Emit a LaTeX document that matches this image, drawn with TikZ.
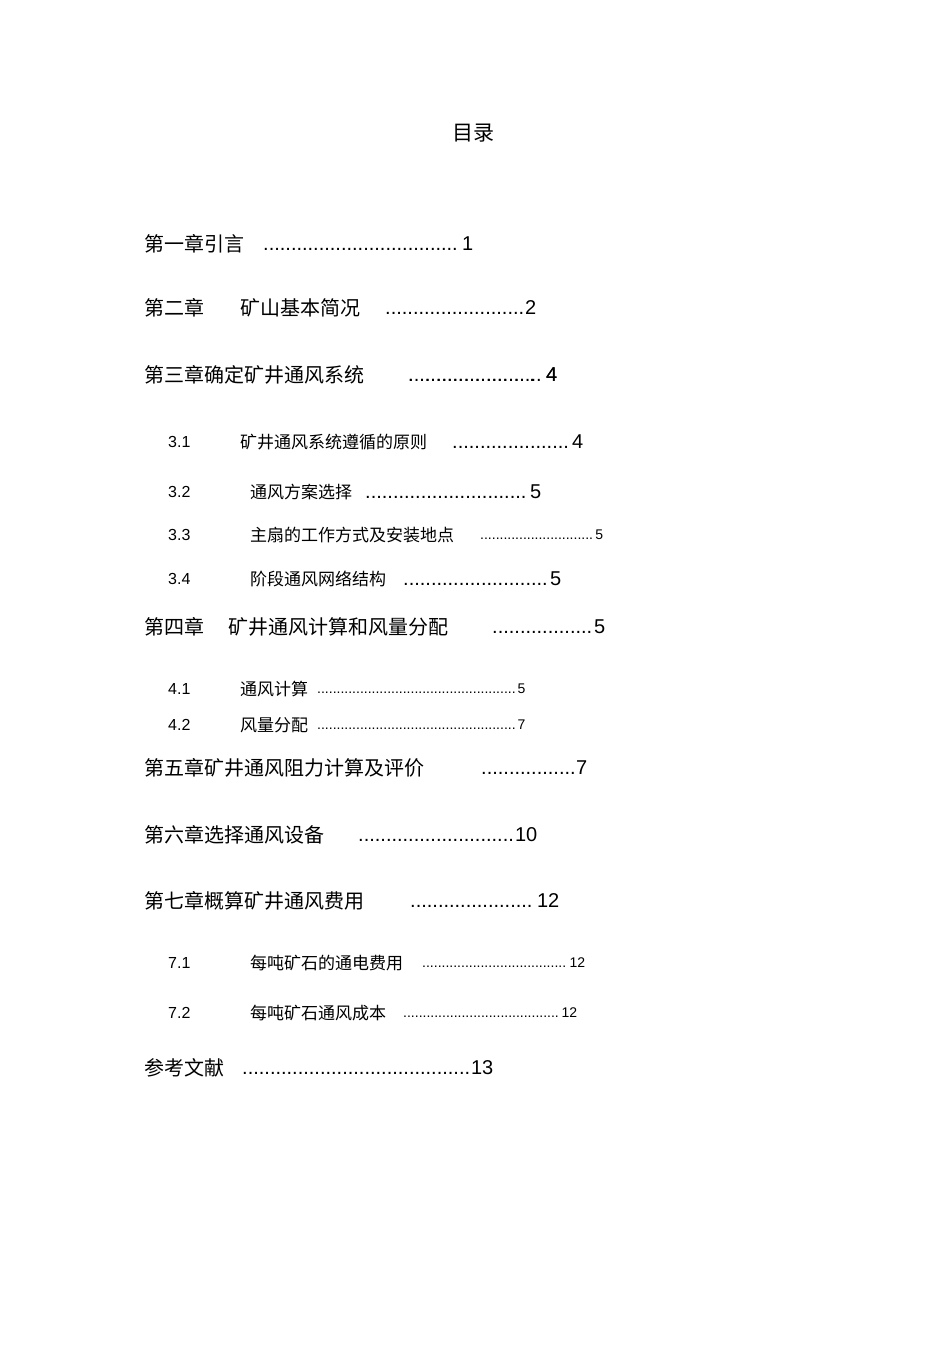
\documentclass[tikz,border=0pt]{standalone}
\usepackage{fontspec}
\setmainfont{Liberation Sans}
\newfontfamily\cjk{Noto Sans CJK SC}
\newcommand{\dotrow}[3]{\hbox to #1pt{\fontsize{#2}{#2}\selectfont\leaders\hbox{.}\hfill #3}}
\begin{document}
\begin{tikzpicture}[x=1pt,y=-1pt,
  zh/.style={anchor=west,inner sep=0pt,font=\cjk\fontsize{20}{20}\selectfont},
  zs/.style={anchor=west,inner sep=0pt,font=\cjk\fontsize{17}{17}\selectfont},
  nm/.style={anchor=west,inner sep=0pt,font=\fontsize{16}{16}\selectfont},
  dt/.style={anchor=west,inner sep=0pt}]
\useasboundingbox (0,0) rectangle (950,1345);
\node[inner sep=0pt,font=\cjk\fontsize{21}{21}\selectfont] (title) at (473,133) {目录};
% ch1
\node[zh] (c1) at (144,244) {第一章引言};
\node[dt] (d1) at (263,244) {\dotrow{210}{20}{1}};
% ch2
\node[zh] (c2a) at (144,308) {第二章};
\node[zh] (c2) at (240,308) {矿山基本简况};
\node[dt] (d2) at (385,308) {\dotrow{151}{20}{2}};
% ch3
\node[zh] (c3) at (144,375) {第三章确定矿井通风系统};
\node[dt] (d3) at (408,375) {\dotrow{149}{20}{.\ \ 4}};
\node[dt] (d3) at (408,375) {\hbox to 149pt{\fontsize{20}{20}\selectfont .\ \leaders\hbox{.}\hfill 4}};
% 3.x
\node[nm] (n31) at (168,442) {3.1};
\node[zs] (s31) at (240,442) {矿井通风系统遵循的原则};
\node[dt] (d31) at (452,442) {\dotrow{131}{20}{4}};
\node[nm] (n32) at (168,492) {3.2};
\node[zs] (s32) at (250,492) {通风方案选择};
\node[dt] (d32) at (365,492) {\dotrow{176}{20}{5}};
\node[nm] (n33) at (168,535) {3.3};
\node[zs] (s33) at (250,535) {主扇的工作方式及安装地点};
\node[dt] (d33) at (480,535) {\dotrow{123}{14}{5}};
\node[nm] (n34) at (168,579) {3.4};
\node[zs] (s34) at (250,579) {阶段通风网络结构};
\node[dt] (d34) at (403,579) {\dotrow{158}{20}{5}};
% ch4
\node[zh] (c4a) at (144,627) {第四章};
\node[zh] (c4) at (228,627) {矿井通风计算和风量分配};
\node[dt] (d4) at (492,627) {\dotrow{113}{20}{5}};
\node[nm] (n41) at (168,689) {4.1};
\node[zs] (s41) at (240,689) {通风计算};
\node[dt] (d41) at (317,689) {\dotrow{208}{14}{5}};
\node[nm] (n42) at (168,725) {4.2};
\node[zs] (s42) at (240,725) {风量分配};
\node[dt] (d42) at (317,725) {\dotrow{208}{14}{7}};
% ch5-7
\node[zh] (c5) at (144,768) {第五章矿井通风阻力计算及评价};
\node[dt] (d5) at (481,768) {\dotrow{106}{20}{7}};
\node[zh] (c6) at (144,835) {第六章选择通风设备};
\node[dt] (d6) at (358,835) {\dotrow{179}{20}{10}};
\node[zh] (c7) at (144,901) {第七章概算矿井通风费用};
\node[dt] (d7) at (410,901) {\dotrow{149}{20}{12}};
\node[nm] (n71) at (168,963) {7.1};
\node[zs] (s71) at (250,963) {每吨矿石的通电费用};
\node[dt] (d71) at (422,963) {\dotrow{163}{14}{12}};
\node[nm] (n72) at (168,1013) {7.2};
\node[zs] (s72) at (250,1013) {每吨矿石通风成本};
\node[dt] (d72) at (403,1013) {\dotrow{174}{14}{12}};
\node[zh] (ref) at (144,1068) {参考文献};
\node[dt] (dr) at (242,1068) {\dotrow{251}{20}{13}};
\end{tikzpicture}
\end{document}
